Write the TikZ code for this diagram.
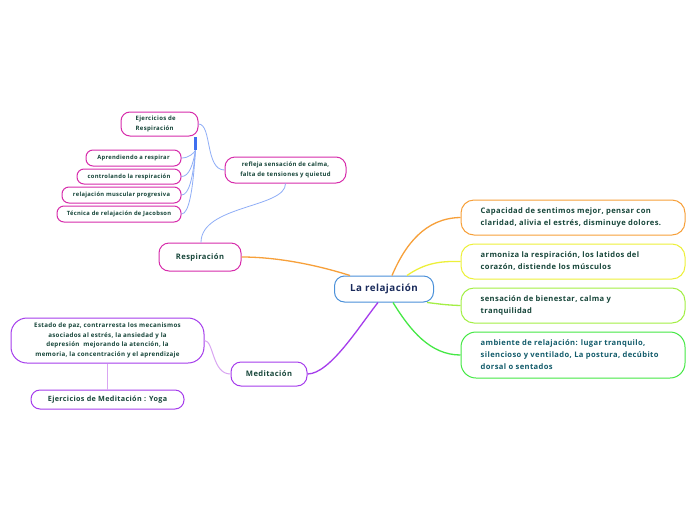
\documentclass[tikz,border=0pt]{standalone}
\usepackage{fontspec}
\setmainfont{Open Sans}[LetterSpace=5]
\definecolor{cblue}{HTML}{4A90D9}
\definecolor{cnavy}{HTML}{1A2B5C}
\definecolor{ctxt}{HTML}{17463A}
\definecolor{cteal}{HTML}{135C6B}
\definecolor{corange}{HTML}{F7A03A}
\definecolor{cyellow}{HTML}{EDF03A}
\definecolor{clgreen}{HTML}{A3EF45}
\definecolor{cgreen}{HTML}{45E845}
\definecolor{cpurple}{HTML}{A53CEC}
\definecolor{clpurple}{HTML}{D9A5F2}
\definecolor{cmag}{HTML}{D72CAB}
\definecolor{clblue}{HTML}{8FAEF7}
\definecolor{cbar}{HTML}{3F6FEF}
\tikzset{
  box/.style={draw, fill=white, line width=1pt, inner sep=0pt},
  txt/.style={inner sep=0pt, text=ctxt, font=\bfseries},
  conn/.style={line width=1.3pt},
  thin/.style={line width=0.8pt, draw=clblue},
}
\begin{document}
\begin{tikzpicture}[x=1pt,y=-1pt]
\useasboundingbox[fill=white] (0,0) rectangle (696,520);

% center
\node[box, draw=cblue, rounded corners=10pt, minimum width=99pt, minimum height=26pt,
  text=cnavy, font=\fontsize{9.8}{11}\selectfont\bfseries] (c) at (384,289) {La relajación};

% right nodes
\node[box, draw=corange, rounded corners=13pt, minimum width=224pt, minimum height=35pt] (n1) at (573,217.5) {};
\node[txt, anchor=west, align=left, font=\fontsize{7.6}{12}\selectfont\bfseries] (t1) at ([xshift=20pt]n1.west)
  {Capacidad de sentimos mejor, pensar con\\claridad, alivia el estrés, disminuye dolores.};
\node[box, draw=cyellow, rounded corners=13pt, minimum width=224pt, minimum height=35pt] (n2) at (573,261.5) {};
\node[txt, anchor=west, align=left, font=\fontsize{7.6}{12}\selectfont\bfseries] (t2) at ([xshift=20pt]n2.west)
  {armoniza la respiración, los latidos del\\corazón, distiende los músculos};
\node[box, draw=clgreen, rounded corners=13pt, minimum width=224pt, minimum height=35pt] (n3) at (573,305.5) {};
\node[txt, anchor=west, align=left, font=\fontsize{7.6}{12}\selectfont\bfseries] (t3) at ([xshift=20pt]n3.west)
  {sensación de bienestar, calma y\\tranquilidad};
\node[box, draw=cgreen, rounded corners=15pt, minimum width=224pt, minimum height=46pt] (n4) at (573,355) {};
\node[txt, text=cteal, anchor=west, align=left, font=\fontsize{7.6}{12}\selectfont\bfseries] (t4) at ([xshift=20pt]n4.west)
  {ambiente de relajación: lugar tranquilo,\\silencioso y ventilado, La postura, decúbito\\dorsal o sentados};

% Respiracion branch
\node[box, draw=cmag, rounded corners=10pt, minimum width=82pt, minimum height=28pt,
  text=ctxt, font=\fontsize{7.6}{9}\selectfont\bfseries] (resp) at (200,257) {Respiración};
\node[box, draw=cmag, rounded corners=10pt, minimum width=121pt, minimum height=26pt,
  text=ctxt, align=center, font=\fontsize{6}{10}\selectfont\bfseries] (refl) at (285.5,170)
  {refleja sensación de calma,\\falta de tensiones y quietud};
\node[box, draw=cmag, rounded corners=9pt, minimum width=77pt, minimum height=24pt] (ejr) at (159.5,124) {};
\node[txt, anchor=west, align=left, font=\fontsize{6}{10}\selectfont\bfseries] at ([xshift=15pt]ejr.west)
  {Ejercicios de\\Respiración};
\node[fill=cbar, inner sep=0pt, minimum width=3pt, minimum height=13pt] (bar) at (195.5,143.5) {};
\node[box, draw=cmag, rounded corners=7pt, minimum width=95pt, minimum height=16pt,
  text=ctxt, font=\fontsize{5.8}{7}\selectfont\bfseries] (s1) at (133.5,158) {Aprendiendo a respirar};
\node[box, draw=cmag, rounded corners=7pt, minimum width=104pt, minimum height=15pt,
  text=ctxt, font=\fontsize{5.8}{7}\selectfont\bfseries] (s2) at (129,176.5) {controlando la respiración};
\node[box, draw=cmag, rounded corners=7pt, minimum width=119pt, minimum height=16pt,
  text=ctxt, font=\fontsize{5.8}{7}\selectfont\bfseries] (s3) at (121.5,195) {relajación muscular progresiva};
\node[box, draw=cmag, rounded corners=7pt, minimum width=124pt, minimum height=16pt,
  text=ctxt, font=\fontsize{5.8}{7}\selectfont\bfseries] (s4) at (119,214) {Técnica de relajación de Jacobson};

% Meditacion branch
\node[box, draw=cpurple, rounded corners=10pt, minimum width=76pt, minimum height=24pt,
  text=ctxt, font=\fontsize{7.6}{9}\selectfont\bfseries] (med) at (269,374) {Meditación};
\node[box, draw=cpurple, rounded corners=16pt, minimum width=193pt, minimum height=45pt,
  text=ctxt, align=center, font=\fontsize{6.2}{9.7}\selectfont\bfseries] (est) at (107.5,340.5)
  {Estado de paz, contrarresta los mecanismos\\asociados al estrés, la ansiedad y la\\depresión \ mejorando la atención, la\\memoria, la concentración y el aprendizaje};
\node[box, draw=cpurple, rounded corners=9pt, minimum width=153pt, minimum height=19pt,
  text=ctxt, font=\fontsize{7.2}{9}\selectfont\bfseries] (yoga) at (107.5,399.5) {Ejercicios de Meditación : Yoga};

% connectors from center
\draw[conn, draw=corange] ([xshift=8pt]c.north) .. controls (405,245) and (425,218) .. (n1.west);
\draw[conn, draw=cyellow] ([xshift=23pt]c.north) .. controls (425,263) and (440,261) .. (n2.west);
\draw[conn, draw=clgreen] ([xshift=43pt]c.south) .. controls (440,304) and (445,305) .. (n3.west);
\draw[conn, draw=cgreen] ([xshift=9pt]c.south) .. controls (410,330) and (430,355) .. (n4.west);
\draw[conn, draw=cpurple] ([xshift=-6pt]c.south) .. controls (360,325) and (330,374) .. (med.east);
\draw[conn, draw=corange] ([xshift=-34pt]c.north) .. controls (320,266) and (280,257) .. (resp.east);

% respiracion sub connectors
\draw[thin] ([xshift=1pt]resp.north) .. controls (201,205) and (286,208) .. (refl.south);
\draw[thin] (ejr.east) .. controls (212,124) and (205,170) .. (refl.west);
\draw[thin] (bar.south) .. controls (194,153) and (189,158) .. (s1.east);
\draw[thin] (bar.south) .. controls (193,165) and (189,176.5) .. (s2.east);
\draw[thin] (bar.south) .. controls (193,178) and (189,195) .. (s3.east);
\draw[thin] (bar.south) .. controls (193,190) and (189,214) .. (s4.east);

% meditacion sub connectors
\draw[line width=1pt, draw=clpurple] (est.east) .. controls (214,341) and (212,374) .. (med.west);
\draw[line width=1pt, draw=clpurple] (est.south) -- (yoga.north);
\end{tikzpicture}
\end{document}
